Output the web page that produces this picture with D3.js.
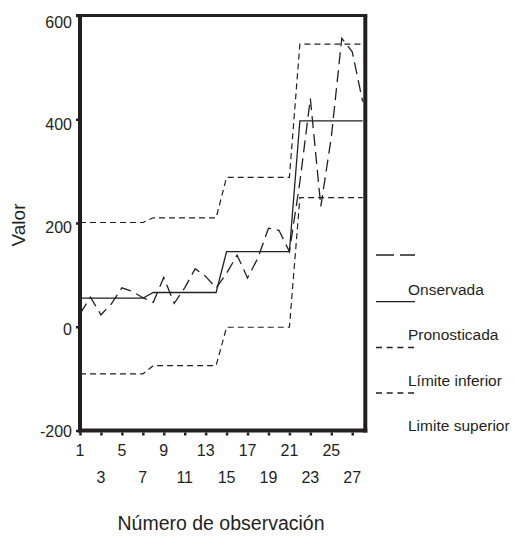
<!DOCTYPE html>
<html>
<head>
<meta charset="utf-8">
<script src="https://cdn.jsdelivr.net/npm/d3@7"></script>
<style>
  body { margin: 0; background: #fff; }
  svg { display: block; font-family: "Liberation Sans", Arial, sans-serif; }
</style>
</head>
<body>
<svg id="chart" width="514" height="536"></svg>
<script>
// ---- data ----
const observations = d3.range(1, 29);
const observada = [25, 57, 23, 44, 75, 68, 56, 47, 95, 45, 75, 112, 97, 75,
                   103, 138, 94, 133, 190, 186, 145, 279, 440, 232, 365, 556, 530, 434];
const pronosticada = [55, 55, 55, 55, 55, 55, 55, 66, 66, 66, 66, 66, 66, 66,
                      145, 145, 145, 145, 145, 145, 145, 397, 397, 397, 397, 397, 397, 397];
const limiteInferior = [-91, -91, -91, -91, -91, -91, -91, -75, -75, -75, -75, -75, -75, -75,
                        -1, -1, -1, -1, -1, -1, -1, 249, 249, 249, 249, 249, 249, 249];
const limiteSuperior = [201, 201, 201, 201, 201, 201, 201, 210, 210, 210, 210, 210, 210, 210,
                        288, 288, 288, 288, 288, 288, 288, 545, 545, 545, 545, 545, 545, 545];
const yTickValues = [-200, 0, 200, 400, 600];
const xTickRow1 = [1, 5, 9, 13, 17, 21, 25];
const xTickRow2 = [3, 7, 11, 15, 19, 23, 27];
const legendLabels = ["Onservada", "Pronosticada", "Límite inferior", "Limite superior"];
const xTitle = "Número de observación";
const yTitle = "Valor";

// ---- layout ----
const ink = "#231f20";
const svg = d3.select("#chart");
const x = d3.scaleLinear().domain([1, 28]).range([80, 362.7]);
const y = d3.scaleLinear().domain([-200, 600]).range([430.5, 15.5]);
const frameRight = 365.3;

// series lines
const line = d3.line().x((d, i) => x(observations[i])).y(d => y(d));
const series = [
  { data: limiteSuperior, dash: "6,4", w: 1.2 },
  { data: limiteInferior, dash: "6,4", w: 1.2 },
  { data: pronosticada, dash: null, w: 1.3 },
  { data: observada, dash: "12,6", w: 1.3 }
];
svg.append("g").selectAll("path").data(series).join("path")
  .attr("d", d => line(d.data))
  .attr("fill", "none")
  .attr("stroke", ink)
  .attr("stroke-width", d => d.w)
  .attr("stroke-dasharray", d => d.dash);

// frame
const frame = svg.append("g").attr("stroke", ink).attr("fill", "none");
frame.append("line").attr("x1", 76).attr("x2", frameRight + 2).attr("y1", y(600)).attr("y2", y(600)).attr("stroke-width", 3);
frame.append("line").attr("x1", frameRight).attr("x2", frameRight).attr("y1", y(600)).attr("y2", y(-200) + 2).attr("stroke-width", 4);
frame.append("line").attr("x1", 78).attr("x2", frameRight + 2).attr("y1", y(-200)).attr("y2", y(-200)).attr("stroke-width", 4);

// y axis
const yAxis = svg.append("g").attr("transform", "translate(80,0)")
  .call(d3.axisLeft(y).tickValues(yTickValues).tickSize(4).tickFormat(""));
yAxis.select(".domain").attr("stroke", ink).attr("stroke-width", 4).attr("d", `M0,${y(600) - 1.5}V${y(-200) + 2}`);
yAxis.selectAll(".tick line").attr("stroke", ink).attr("stroke-width", 2.5);
svg.append("g").selectAll("text").data(yTickValues).join("text")
  .attr("x", 72)
  .attr("y", d => y(d) + 1 + 6 * (d + 200) / 800)
  .attr("text-anchor", "end")
  .attr("dominant-baseline", "central")
  .attr("font-size", 16)
  .attr("fill", ink)
  .text(d => d);

// x axis ticks
const xAxis = svg.append("g").attr("transform", `translate(0,${y(-200) + 2})`)
  .call(d3.axisBottom(x).tickValues(xTickRow1.concat(xTickRow2)).tickSize(3).tickFormat(""));
xAxis.select(".domain").remove();
xAxis.selectAll(".tick line").attr("stroke", ink).attr("stroke-width", 2.5);
svg.append("g").selectAll("text").data(xTickRow1).join("text")
  .attr("x", d => x(d)).attr("y", 450)
  .attr("text-anchor", "middle").attr("dominant-baseline", "central")
  .attr("font-size", 16).attr("fill", ink).text(d => d);
svg.append("g").selectAll("text").data(xTickRow2).join("text")
  .attr("x", d => x(d)).attr("y", 477)
  .attr("text-anchor", "middle").attr("dominant-baseline", "central")
  .attr("font-size", 16).attr("fill", ink).text(d => d);

// titles
svg.append("text").attr("x", 221).attr("y", 523)
  .attr("text-anchor", "middle").attr("dominant-baseline", "central")
  .attr("font-size", 19.5).attr("fill", ink).text(xTitle);
svg.append("text").attr("transform", "translate(18,225) rotate(-90)")
  .attr("text-anchor", "middle").attr("dominant-baseline", "central")
  .attr("font-size", 19).attr("fill", ink).text(yTitle);

// legend (samples sit above each label, as in the original)
const legendSamples = [
  { y: 255, dash: "18,6" },
  { y: 301.7, dash: null },
  { y: 347.5, dash: "6,4.7" },
  { y: 393, dash: "6,4.7" }
];
const legendTextY = [289, 334, 380, 425];
const lg = svg.append("g");
lg.selectAll("line").data(legendSamples).join("line")
  .attr("x1", 376).attr("x2", 415)
  .attr("y1", d => d.y).attr("y2", d => d.y)
  .attr("stroke", ink).attr("stroke-width", 1.3)
  .attr("stroke-dasharray", d => d.dash);
lg.selectAll("text").data(legendLabels).join("text")
  .attr("x", 408).attr("y", (d, i) => legendTextY[i])
  .attr("dominant-baseline", "central")
  .attr("font-size", 15.5).attr("fill", ink)
  .text(d => d);
</script>
</body>
</html>
